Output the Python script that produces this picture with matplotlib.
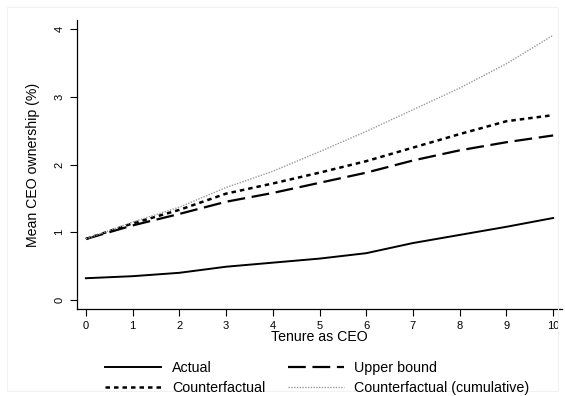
import matplotlib.pyplot as plt
from matplotlib.patches import Rectangle

plt.rcParams['font.family'] = ['Liberation Sans', 'DejaVu Sans']

tenure = [0, 1, 2, 3, 4, 5, 6, 7, 8, 9, 10]
actual = [0.32, 0.35, 0.40, 0.49, 0.55, 0.61, 0.69, 0.84, 0.96, 1.08, 1.21]
upper_bound = [0.90, 1.10, 1.27, 1.45, 1.58, 1.73, 1.88, 2.06, 2.21, 2.33, 2.43]
counterfactual = [0.90, 1.13, 1.33, 1.57, 1.72, 1.88, 2.05, 2.25, 2.45, 2.64, 2.73]
cumulative = [0.90, 1.15, 1.37, 1.66, 1.90, 2.19, 2.49, 2.81, 3.13, 3.49, 3.91]

fig = plt.figure(figsize=(5.65, 3.96), dpi=100)
fig.patches.append(Rectangle((0.012, 0.012), 0.976, 0.97, transform=fig.transFigure,
                             fill=False, edgecolor='#f2f2f2', linewidth=0.8))
ax = fig.add_axes([0.136, 0.220, 0.859, 0.729])

l1, = ax.plot(tenure, actual, color='black', lw=1.4, label='Actual')
l2, = ax.plot(tenure, upper_bound, color='black', lw=1.6, dashes=(8, 3), label='Upper bound')
l3, = ax.plot(tenure, counterfactual, color='black', lw=1.8, dashes=(1.8, 1.6), label='Counterfactual')
l4, = ax.plot(tenure, cumulative, color='#9a9a9a', lw=1.0, dashes=(1, 1),
              label='Counterfactual (cumulative)')

ax.set_xlim(-0.193, 10.193)
ax.set_ylim(-0.133, 4.133)
ax.set_xticks(tenure)
ax.set_yticks([0, 1, 2, 3, 4])
ax.spines['top'].set_visible(False)
ax.spines['right'].set_visible(False)
for s in ('left', 'bottom'):
    ax.spines[s].set_linewidth(0.9)
ax.tick_params(direction='out', length=5, width=0.8, labelsize=8, pad=4)
for lab in ax.get_yticklabels():
    lab.set_rotation(90)
    lab.set_va('center')
ax.set_xlabel('Tenure as CEO', fontsize=10.2, labelpad=-1)
ax.set_ylabel('Mean CEO ownership (%)', fontsize=10.2, labelpad=10)

fig.legend(handles=[l1, l3, l2, l4], ncol=2, loc='center', bbox_to_anchor=(0.562, 0.045),
           frameon=False, fontsize=10.3, handlelength=3.9, handletextpad=0.75,
           columnspacing=1.6, labelspacing=0.4)

fig.savefig('out.png', dpi=100)
